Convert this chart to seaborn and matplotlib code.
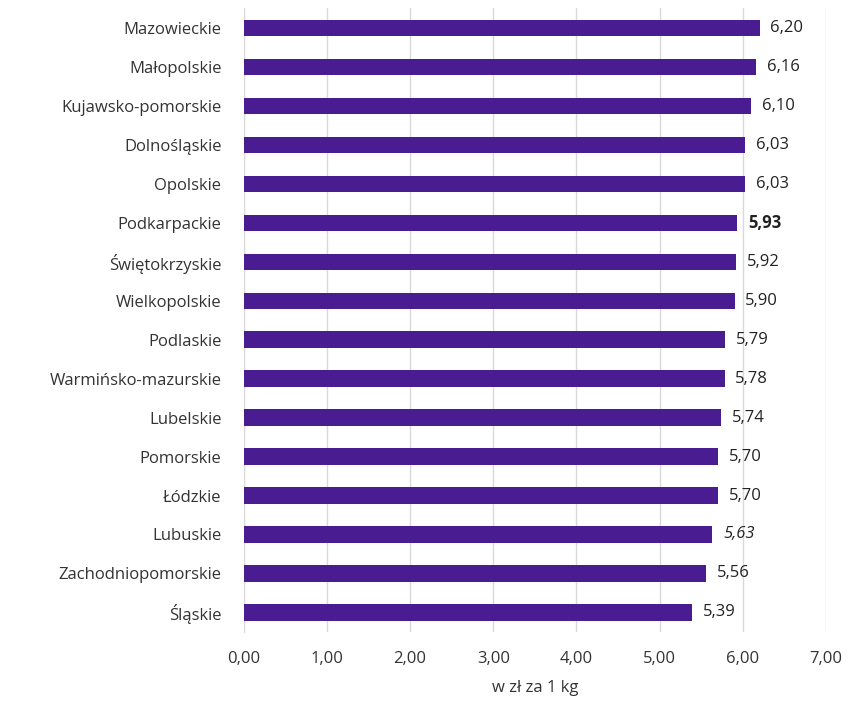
import matplotlib
matplotlib.use("Agg")
import matplotlib.pyplot as plt
import seaborn as sns
import pandas as pd

regions = ["Mazowieckie", "Małopolskie", "Kujawsko-pomorskie", "Dolnośląskie",
           "Opolskie", "Podkarpackie", "Świętokrzyskie", "Wielkopolskie",
           "Podlaskie", "Warmińsko-mazurskie", "Lubelskie", "Pomorskie",
           "Łódzkie", "Lubuskie", "Zachodniopomorskie", "Śląskie"]
prices = [6.20, 6.16, 6.10, 6.03, 6.03, 5.93, 5.92, 5.90,
          5.79, 5.78, 5.74, 5.70, 5.70, 5.63, 5.56, 5.39]
bold_region = "Podkarpackie"
italic_region = "Lubuskie"

sns.set_style("white")
plt.rcParams["font.family"] = ["Open Sans", "DejaVu Sans"]

df = pd.DataFrame({"region": regions, "price": prices})

fig = plt.figure(figsize=(8.49, 7.06), dpi=100)
ax = fig.add_axes([0.287, 0.105, 0.686, 0.883])
sns.barplot(data=df, y="region", x="price", color="#4a1c92", width=0.42,
            saturation=1, ax=ax, zorder=3, linewidth=0)

ax.set_xlim(0, 7)
ax.set_xticks(range(8))
ax.set_xticklabels([f"{v},00" for v in range(8)], fontsize=12, color="#333333")
ax.tick_params(axis="y", labelsize=12, labelcolor="#333333", length=0, pad=16)
ax.tick_params(axis="x", length=0, pad=14)
ax.set_ylabel("")
ax.set_xlabel("w zł za 1 kg", fontsize=12, color="#333333", labelpad=9)
ax.grid(axis="x", color="#d9d9d9", linewidth=1, zorder=0)
for s in ["top", "right", "bottom"]:
    ax.spines[s].set_visible(False)
ax.spines["left"].set_color("#d9d9d9")

for i, (r, p) in enumerate(zip(regions, prices)):
    weight = "bold" if r == bold_region else "normal"
    style = "italic" if r == italic_region else "normal"
    ax.text(p + 0.13, i, f"{p:.2f}".replace(".", ","), va="center", ha="left",
            fontsize=12, color="#222222", fontweight=weight, fontstyle=style)

fig.savefig("out.png", dpi=100)
